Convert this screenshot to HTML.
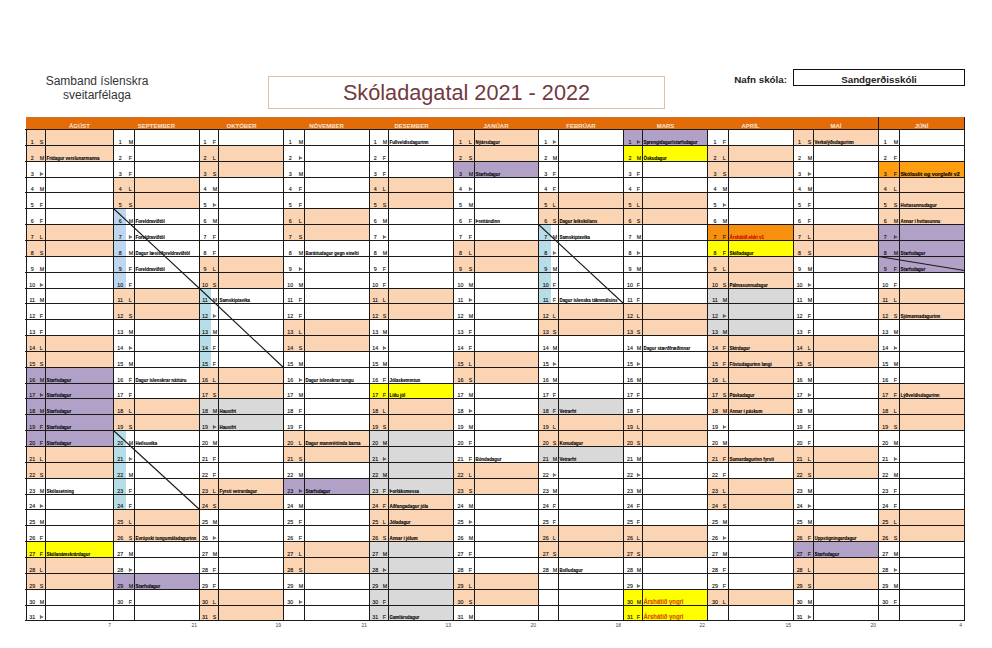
<!DOCTYPE html>
<html><head><meta charset="utf-8"><style>
html,body{margin:0;padding:0;background:#fff;}
body{width:992px;height:648px;position:relative;overflow:hidden;font-family:"Liberation Sans",sans-serif;}
div,span{position:absolute;}
.t{white-space:nowrap;line-height:1;}
.n{font-size:5.3px;color:#111;-webkit-text-stroke:0.12px #111;}
.c{font-size:4.4px;font-weight:bold;color:#000;-webkit-text-stroke:0.1px currentColor;transform:scaleY(1.08);transform-origin:0 100%;}
.h{font-size:6px;font-weight:bold;color:#FBE3CF;}
.bn{font-size:5px;color:#444;}
</style></head><body>

<span class="t" style="left:0;width:194px;top:73.8px;font-size:12px;color:#333;text-align:center;line-height:14px">Samband íslenskra<br>sveitarfélaga</span>
<div style="left:268px;top:76px;width:395px;height:31px;border:1px solid #E2BFA3"></div>
<span class="t" style="left:268px;width:397px;top:82.1px;font-size:21.7px;color:#723A40;text-align:center">Skóladagatal 2021 - 2022</span>
<span class="t" style="left:700px;width:87px;top:75px;font-size:9.8px;font-weight:bold;color:#222;text-align:right">Nafn skóla:</span>
<div style="left:793px;top:69px;width:170px;height:15px;border:1.5px solid #111"></div>
<span class="t" style="left:793px;width:172px;top:74.5px;font-size:9.8px;font-weight:bold;color:#222;text-align:center">Sandgerðisskóli</span>
<div style="left:26px;top:117px;width:939px;height:12px;background:#E36C09"></div>
<div style="left:26px;top:117px;width:939px;height:1px;background:#C9722C"></div>
<span class="t h" style="left:45px;width:69px;top:122.6px;text-align:center">ÁGÚST</span>
<span class="t h" style="left:113px;width:87px;top:122.6px;text-align:center">SEPTEMBER</span>
<span class="t h" style="left:199px;width:85px;top:122.6px;text-align:center">OKTÓBER</span>
<span class="t h" style="left:283px;width:87px;top:122.6px;text-align:center">NÓVEMBER</span>
<span class="t h" style="left:369px;width:85px;top:122.6px;text-align:center">DESEMBER</span>
<span class="t h" style="left:453px;width:86px;top:122.6px;text-align:center">JANÚAR</span>
<span class="t h" style="left:538px;width:86px;top:122.6px;text-align:center">FEBRÚAR</span>
<span class="t h" style="left:623px;width:85px;top:122.6px;text-align:center">MARS</span>
<span class="t h" style="left:707px;width:87px;top:122.6px;text-align:center">APRÍL</span>
<span class="t h" style="left:793px;width:86px;top:122.6px;text-align:center">MAÍ</span>
<span class="t h" style="left:878px;width:87px;top:122.6px;text-align:center">JÚNÍ</span>
<div style="left:27px;top:130px;width:86px;height:15px;background:#FBD4B4"></div>
<span class="t n" style="left:22.200000000000003px;width:20px;text-align:center;top:139.8px">1</span>
<span class="t n" style="left:39.7px;top:139.8px">S</span>
<div style="left:27px;top:146px;width:86px;height:15px;background:#FBD4B4"></div>
<span class="t n" style="left:22.200000000000003px;width:20px;text-align:center;top:155.8px">2</span>
<span class="t n" style="left:39.7px;top:155.8px">M</span>
<span class="t c" style="left:46.5px;top:157.16px;font-size:4.4px;">Frídagur verslunarmanna</span>
<span class="t n" style="left:22.200000000000003px;width:20px;text-align:center;top:171.8px">3</span>
<span class="t n" style="left:39.7px;top:171.8px">Þ</span>
<span class="t n" style="left:22.200000000000003px;width:20px;text-align:center;top:186.8px">4</span>
<span class="t n" style="left:39.7px;top:186.8px">M</span>
<span class="t n" style="left:22.200000000000003px;width:20px;text-align:center;top:202.8px">5</span>
<span class="t n" style="left:39.7px;top:202.8px">F</span>
<span class="t n" style="left:22.200000000000003px;width:20px;text-align:center;top:218.8px">6</span>
<span class="t n" style="left:39.7px;top:218.8px">F</span>
<div style="left:27px;top:225px;width:86px;height:15px;background:#FBD4B4"></div>
<span class="t n" style="left:22.200000000000003px;width:20px;text-align:center;top:234.8px">7</span>
<span class="t n" style="left:39.7px;top:234.8px">L</span>
<div style="left:27px;top:241px;width:86px;height:15px;background:#FBD4B4"></div>
<span class="t n" style="left:22.200000000000003px;width:20px;text-align:center;top:250.8px">8</span>
<span class="t n" style="left:39.7px;top:250.8px">S</span>
<span class="t n" style="left:22.200000000000003px;width:20px;text-align:center;top:266.8px">9</span>
<span class="t n" style="left:39.7px;top:266.8px">M</span>
<span class="t n" style="left:22.200000000000003px;width:20px;text-align:center;top:282.8px">10</span>
<span class="t n" style="left:39.7px;top:282.8px">Þ</span>
<span class="t n" style="left:22.200000000000003px;width:20px;text-align:center;top:297.8px">11</span>
<span class="t n" style="left:39.7px;top:297.8px">M</span>
<span class="t n" style="left:22.200000000000003px;width:20px;text-align:center;top:313.8px">12</span>
<span class="t n" style="left:39.7px;top:313.8px">F</span>
<span class="t n" style="left:22.200000000000003px;width:20px;text-align:center;top:329.8px">13</span>
<span class="t n" style="left:39.7px;top:329.8px">F</span>
<div style="left:27px;top:336px;width:86px;height:15px;background:#FBD4B4"></div>
<span class="t n" style="left:22.200000000000003px;width:20px;text-align:center;top:345.8px">14</span>
<span class="t n" style="left:39.7px;top:345.8px">L</span>
<div style="left:27px;top:352px;width:86px;height:15px;background:#FBD4B4"></div>
<span class="t n" style="left:22.200000000000003px;width:20px;text-align:center;top:361.8px">15</span>
<span class="t n" style="left:39.7px;top:361.8px">S</span>
<div style="left:27px;top:368px;width:86px;height:15px;background:#B2A1C7"></div>
<span class="t n" style="left:22.200000000000003px;width:20px;text-align:center;top:377.8px">16</span>
<span class="t n" style="left:39.7px;top:377.8px">M</span>
<span class="t c" style="left:46.5px;top:379.15999999999997px;font-size:4.4px;">Starfsdagur</span>
<div style="left:27px;top:384px;width:86px;height:14px;background:#B2A1C7"></div>
<span class="t n" style="left:22.200000000000003px;width:20px;text-align:center;top:392.8px">17</span>
<span class="t n" style="left:39.7px;top:392.8px">Þ</span>
<span class="t c" style="left:46.5px;top:394.15999999999997px;font-size:4.4px;">Starfsdagur</span>
<div style="left:27px;top:399px;width:86px;height:15px;background:#B2A1C7"></div>
<span class="t n" style="left:22.200000000000003px;width:20px;text-align:center;top:408.8px">18</span>
<span class="t n" style="left:39.7px;top:408.8px">M</span>
<span class="t c" style="left:46.5px;top:410.15999999999997px;font-size:4.4px;">Starfsdagur</span>
<div style="left:27px;top:415px;width:86px;height:15px;background:#B2A1C7"></div>
<span class="t n" style="left:22.200000000000003px;width:20px;text-align:center;top:424.8px">19</span>
<span class="t n" style="left:39.7px;top:424.8px">F</span>
<span class="t c" style="left:46.5px;top:426.15999999999997px;font-size:4.4px;">Starfsdagur</span>
<div style="left:27px;top:431px;width:86px;height:15px;background:#B2A1C7"></div>
<span class="t n" style="left:22.200000000000003px;width:20px;text-align:center;top:440.8px">20</span>
<span class="t n" style="left:39.7px;top:440.8px">F</span>
<span class="t c" style="left:46.5px;top:442.15999999999997px;font-size:4.4px;">Starfsdagur</span>
<div style="left:27px;top:447px;width:86px;height:15px;background:#FBD4B4"></div>
<span class="t n" style="left:22.200000000000003px;width:20px;text-align:center;top:456.8px">21</span>
<span class="t n" style="left:39.7px;top:456.8px">L</span>
<div style="left:27px;top:463px;width:86px;height:15px;background:#FBD4B4"></div>
<span class="t n" style="left:22.200000000000003px;width:20px;text-align:center;top:472.8px">22</span>
<span class="t n" style="left:39.7px;top:472.8px">S</span>
<span class="t n" style="left:22.200000000000003px;width:20px;text-align:center;top:488.8px">23</span>
<span class="t n" style="left:39.7px;top:488.8px">M</span>
<span class="t c" style="left:46.5px;top:490.15999999999997px;font-size:4.4px;">Skólasetning</span>
<span class="t n" style="left:22.200000000000003px;width:20px;text-align:center;top:503.8px">24</span>
<span class="t n" style="left:39.7px;top:503.8px">Þ</span>
<span class="t n" style="left:22.200000000000003px;width:20px;text-align:center;top:519.8px">25</span>
<span class="t n" style="left:39.7px;top:519.8px">M</span>
<span class="t n" style="left:22.200000000000003px;width:20px;text-align:center;top:535.8px">26</span>
<span class="t n" style="left:39.7px;top:535.8px">F</span>
<div style="left:27px;top:542px;width:86px;height:15px;background:#FFFF00"></div>
<span class="t n" style="left:22.200000000000003px;width:20px;text-align:center;top:551.8px">27</span>
<span class="t n" style="left:39.7px;top:551.8px">F</span>
<span class="t c" style="left:46.5px;top:553.16px;font-size:4.4px;">Skólanámskrárdagur</span>
<div style="left:27px;top:558px;width:86px;height:15px;background:#FBD4B4"></div>
<span class="t n" style="left:22.200000000000003px;width:20px;text-align:center;top:567.8px">28</span>
<span class="t n" style="left:39.7px;top:567.8px">L</span>
<div style="left:27px;top:574px;width:86px;height:15px;background:#FBD4B4"></div>
<span class="t n" style="left:22.200000000000003px;width:20px;text-align:center;top:583.8px">29</span>
<span class="t n" style="left:39.7px;top:583.8px">S</span>
<span class="t n" style="left:22.200000000000003px;width:20px;text-align:center;top:599.8px">30</span>
<span class="t n" style="left:39.7px;top:599.8px">M</span>
<span class="t n" style="left:22.200000000000003px;width:20px;text-align:center;top:614.8px">31</span>
<span class="t n" style="left:39.7px;top:614.8px">Þ</span>
<span class="t n" style="left:110.25px;width:20px;text-align:center;top:139.8px">1</span>
<span class="t n" style="left:128.7px;top:139.8px">M</span>
<span class="t n" style="left:110.25px;width:20px;text-align:center;top:155.8px">2</span>
<span class="t n" style="left:128.7px;top:155.8px">F</span>
<span class="t n" style="left:110.25px;width:20px;text-align:center;top:171.8px">3</span>
<span class="t n" style="left:128.7px;top:171.8px">F</span>
<div style="left:114px;top:178px;width:85px;height:14px;background:#FBD4B4"></div>
<span class="t n" style="left:110.25px;width:20px;text-align:center;top:186.8px">4</span>
<span class="t n" style="left:128.7px;top:186.8px">L</span>
<div style="left:114px;top:193px;width:85px;height:15px;background:#FBD4B4"></div>
<span class="t n" style="left:110.25px;width:20px;text-align:center;top:202.8px">5</span>
<span class="t n" style="left:128.7px;top:202.8px">S</span>
<div style="left:114px;top:209px;width:12px;height:15px;background:#BDD7EE"></div>
<span class="t n" style="left:110.25px;width:20px;text-align:center;top:218.8px">6</span>
<span class="t n" style="left:128.7px;top:218.8px">M</span>
<span class="t c" style="left:135.5px;top:220.16px;font-size:4.4px;">Foreldraviðtöl</span>
<div style="left:114px;top:225px;width:12px;height:15px;background:#BDD7EE"></div>
<span class="t n" style="left:110.25px;width:20px;text-align:center;top:234.8px">7</span>
<span class="t n" style="left:128.7px;top:234.8px">Þ</span>
<span class="t c" style="left:135.5px;top:236.16px;font-size:4.4px;">Foreldraviðtöl</span>
<div style="left:114px;top:241px;width:12px;height:15px;background:#BDD7EE"></div>
<span class="t n" style="left:110.25px;width:20px;text-align:center;top:250.8px">8</span>
<span class="t n" style="left:128.7px;top:250.8px">M</span>
<span class="t c" style="left:135.5px;top:252.16px;font-size:4.4px;">Dagur læsis/foreldraviðtöl</span>
<div style="left:114px;top:257px;width:12px;height:15px;background:#BDD7EE"></div>
<span class="t n" style="left:110.25px;width:20px;text-align:center;top:266.8px">9</span>
<span class="t n" style="left:128.7px;top:266.8px">F</span>
<span class="t c" style="left:135.5px;top:268.15999999999997px;font-size:4.4px;">Foreldraviðtöl</span>
<div style="left:114px;top:273px;width:12px;height:15px;background:#BDD7EE"></div>
<span class="t n" style="left:110.25px;width:20px;text-align:center;top:282.8px">10</span>
<span class="t n" style="left:128.7px;top:282.8px">F</span>
<div style="left:114px;top:289px;width:85px;height:14px;background:#FBD4B4"></div>
<span class="t n" style="left:110.25px;width:20px;text-align:center;top:297.8px">11</span>
<span class="t n" style="left:128.7px;top:297.8px">L</span>
<div style="left:114px;top:304px;width:85px;height:15px;background:#FBD4B4"></div>
<span class="t n" style="left:110.25px;width:20px;text-align:center;top:313.8px">12</span>
<span class="t n" style="left:128.7px;top:313.8px">S</span>
<span class="t n" style="left:110.25px;width:20px;text-align:center;top:329.8px">13</span>
<span class="t n" style="left:128.7px;top:329.8px">M</span>
<span class="t n" style="left:110.25px;width:20px;text-align:center;top:345.8px">14</span>
<span class="t n" style="left:128.7px;top:345.8px">Þ</span>
<span class="t n" style="left:110.25px;width:20px;text-align:center;top:361.8px">15</span>
<span class="t n" style="left:128.7px;top:361.8px">M</span>
<span class="t n" style="left:110.25px;width:20px;text-align:center;top:377.8px">16</span>
<span class="t n" style="left:128.7px;top:377.8px">F</span>
<span class="t c" style="left:135.5px;top:379.15999999999997px;font-size:4.4px;">Dagur íslenskrar náttúru</span>
<span class="t n" style="left:110.25px;width:20px;text-align:center;top:392.8px">17</span>
<span class="t n" style="left:128.7px;top:392.8px">F</span>
<div style="left:114px;top:399px;width:85px;height:15px;background:#FBD4B4"></div>
<span class="t n" style="left:110.25px;width:20px;text-align:center;top:408.8px">18</span>
<span class="t n" style="left:128.7px;top:408.8px">L</span>
<div style="left:114px;top:415px;width:85px;height:15px;background:#FBD4B4"></div>
<span class="t n" style="left:110.25px;width:20px;text-align:center;top:424.8px">19</span>
<span class="t n" style="left:128.7px;top:424.8px">S</span>
<div style="left:114px;top:431px;width:12px;height:15px;background:#B7DEE8"></div>
<span class="t n" style="left:110.25px;width:20px;text-align:center;top:440.8px">20</span>
<span class="t n" style="left:128.7px;top:440.8px">M</span>
<span class="t c" style="left:135.5px;top:442.15999999999997px;font-size:4.4px;">Heilsuvika</span>
<div style="left:114px;top:447px;width:12px;height:15px;background:#B7DEE8"></div>
<span class="t n" style="left:110.25px;width:20px;text-align:center;top:456.8px">21</span>
<span class="t n" style="left:128.7px;top:456.8px">Þ</span>
<div style="left:114px;top:463px;width:12px;height:15px;background:#B7DEE8"></div>
<span class="t n" style="left:110.25px;width:20px;text-align:center;top:472.8px">22</span>
<span class="t n" style="left:128.7px;top:472.8px">M</span>
<div style="left:114px;top:479px;width:12px;height:15px;background:#B7DEE8"></div>
<span class="t n" style="left:110.25px;width:20px;text-align:center;top:488.8px">23</span>
<span class="t n" style="left:128.7px;top:488.8px">F</span>
<div style="left:114px;top:495px;width:12px;height:14px;background:#B7DEE8"></div>
<span class="t n" style="left:110.25px;width:20px;text-align:center;top:503.8px">24</span>
<span class="t n" style="left:128.7px;top:503.8px">F</span>
<div style="left:114px;top:510px;width:85px;height:15px;background:#FBD4B4"></div>
<span class="t n" style="left:110.25px;width:20px;text-align:center;top:519.8px">25</span>
<span class="t n" style="left:128.7px;top:519.8px">L</span>
<div style="left:114px;top:526px;width:85px;height:15px;background:#FBD4B4"></div>
<span class="t n" style="left:110.25px;width:20px;text-align:center;top:535.8px">26</span>
<span class="t n" style="left:128.7px;top:535.8px">S</span>
<span class="t c" style="left:135.5px;top:537.16px;font-size:4.4px;">Evrópski tungumáladagurinn</span>
<span class="t n" style="left:110.25px;width:20px;text-align:center;top:551.8px">27</span>
<span class="t n" style="left:128.7px;top:551.8px">M</span>
<span class="t n" style="left:110.25px;width:20px;text-align:center;top:567.8px">28</span>
<span class="t n" style="left:128.7px;top:567.8px">Þ</span>
<div style="left:114px;top:574px;width:85px;height:15px;background:#B2A1C7"></div>
<span class="t n" style="left:110.25px;width:20px;text-align:center;top:583.8px">29</span>
<span class="t n" style="left:128.7px;top:583.8px">M</span>
<span class="t c" style="left:135.5px;top:585.16px;font-size:4.4px;">Starfsdagur</span>
<span class="t n" style="left:110.25px;width:20px;text-align:center;top:599.8px">30</span>
<span class="t n" style="left:128.7px;top:599.8px">F</span>
<span class="t n" style="left:195.0px;width:20px;text-align:center;top:139.8px">1</span>
<span class="t n" style="left:212.7px;top:139.8px">F</span>
<div style="left:200px;top:146px;width:83px;height:15px;background:#FBD4B4"></div>
<span class="t n" style="left:195.0px;width:20px;text-align:center;top:155.8px">2</span>
<span class="t n" style="left:212.7px;top:155.8px">L</span>
<div style="left:200px;top:162px;width:83px;height:15px;background:#FBD4B4"></div>
<span class="t n" style="left:195.0px;width:20px;text-align:center;top:171.8px">3</span>
<span class="t n" style="left:212.7px;top:171.8px">S</span>
<span class="t n" style="left:195.0px;width:20px;text-align:center;top:186.8px">4</span>
<span class="t n" style="left:212.7px;top:186.8px">M</span>
<span class="t n" style="left:195.0px;width:20px;text-align:center;top:202.8px">5</span>
<span class="t n" style="left:212.7px;top:202.8px">Þ</span>
<span class="t n" style="left:195.0px;width:20px;text-align:center;top:218.8px">6</span>
<span class="t n" style="left:212.7px;top:218.8px">M</span>
<span class="t n" style="left:195.0px;width:20px;text-align:center;top:234.8px">7</span>
<span class="t n" style="left:212.7px;top:234.8px">F</span>
<span class="t n" style="left:195.0px;width:20px;text-align:center;top:250.8px">8</span>
<span class="t n" style="left:212.7px;top:250.8px">F</span>
<div style="left:200px;top:257px;width:83px;height:15px;background:#FBD4B4"></div>
<span class="t n" style="left:195.0px;width:20px;text-align:center;top:266.8px">9</span>
<span class="t n" style="left:212.7px;top:266.8px">L</span>
<div style="left:200px;top:273px;width:83px;height:15px;background:#FBD4B4"></div>
<span class="t n" style="left:195.0px;width:20px;text-align:center;top:282.8px">10</span>
<span class="t n" style="left:212.7px;top:282.8px">S</span>
<div style="left:200px;top:289px;width:11px;height:14px;background:#B7DEE8"></div>
<span class="t n" style="left:195.0px;width:20px;text-align:center;top:297.8px">11</span>
<span class="t n" style="left:212.7px;top:297.8px">M</span>
<span class="t c" style="left:219.5px;top:299.15999999999997px;font-size:4.4px;">Samskiptavika</span>
<div style="left:200px;top:304px;width:11px;height:15px;background:#B7DEE8"></div>
<span class="t n" style="left:195.0px;width:20px;text-align:center;top:313.8px">12</span>
<span class="t n" style="left:212.7px;top:313.8px">Þ</span>
<div style="left:200px;top:320px;width:11px;height:15px;background:#B7DEE8"></div>
<span class="t n" style="left:195.0px;width:20px;text-align:center;top:329.8px">13</span>
<span class="t n" style="left:212.7px;top:329.8px">M</span>
<div style="left:200px;top:336px;width:11px;height:15px;background:#B7DEE8"></div>
<span class="t n" style="left:195.0px;width:20px;text-align:center;top:345.8px">14</span>
<span class="t n" style="left:212.7px;top:345.8px">F</span>
<div style="left:200px;top:352px;width:11px;height:15px;background:#B7DEE8"></div>
<span class="t n" style="left:195.0px;width:20px;text-align:center;top:361.8px">15</span>
<span class="t n" style="left:212.7px;top:361.8px">F</span>
<div style="left:200px;top:368px;width:83px;height:15px;background:#FBD4B4"></div>
<span class="t n" style="left:195.0px;width:20px;text-align:center;top:377.8px">16</span>
<span class="t n" style="left:212.7px;top:377.8px">L</span>
<div style="left:200px;top:384px;width:83px;height:14px;background:#FBD4B4"></div>
<span class="t n" style="left:195.0px;width:20px;text-align:center;top:392.8px">17</span>
<span class="t n" style="left:212.7px;top:392.8px">S</span>
<div style="left:200px;top:399px;width:83px;height:15px;background:#D9D9D9"></div>
<span class="t n" style="left:195.0px;width:20px;text-align:center;top:408.8px">18</span>
<span class="t n" style="left:212.7px;top:408.8px">M</span>
<span class="t c" style="left:219.5px;top:410.15999999999997px;font-size:4.4px;">Haustfrí</span>
<div style="left:200px;top:415px;width:83px;height:15px;background:#D9D9D9"></div>
<span class="t n" style="left:195.0px;width:20px;text-align:center;top:424.8px">19</span>
<span class="t n" style="left:212.7px;top:424.8px">Þ</span>
<span class="t c" style="left:219.5px;top:426.15999999999997px;font-size:4.4px;">Haustfrí</span>
<span class="t n" style="left:195.0px;width:20px;text-align:center;top:440.8px">20</span>
<span class="t n" style="left:212.7px;top:440.8px">M</span>
<span class="t n" style="left:195.0px;width:20px;text-align:center;top:456.8px">21</span>
<span class="t n" style="left:212.7px;top:456.8px">F</span>
<span class="t n" style="left:195.0px;width:20px;text-align:center;top:472.8px">22</span>
<span class="t n" style="left:212.7px;top:472.8px">F</span>
<div style="left:200px;top:479px;width:83px;height:15px;background:#FBD4B4"></div>
<span class="t n" style="left:195.0px;width:20px;text-align:center;top:488.8px">23</span>
<span class="t n" style="left:212.7px;top:488.8px">L</span>
<span class="t c" style="left:219.5px;top:490.15999999999997px;font-size:4.4px;">Fyrsti vetrardagur</span>
<div style="left:200px;top:495px;width:83px;height:14px;background:#FBD4B4"></div>
<span class="t n" style="left:195.0px;width:20px;text-align:center;top:503.8px">24</span>
<span class="t n" style="left:212.7px;top:503.8px">S</span>
<span class="t n" style="left:195.0px;width:20px;text-align:center;top:519.8px">25</span>
<span class="t n" style="left:212.7px;top:519.8px">M</span>
<span class="t n" style="left:195.0px;width:20px;text-align:center;top:535.8px">26</span>
<span class="t n" style="left:212.7px;top:535.8px">Þ</span>
<span class="t n" style="left:195.0px;width:20px;text-align:center;top:551.8px">27</span>
<span class="t n" style="left:212.7px;top:551.8px">M</span>
<span class="t n" style="left:195.0px;width:20px;text-align:center;top:567.8px">28</span>
<span class="t n" style="left:212.7px;top:567.8px">F</span>
<span class="t n" style="left:195.0px;width:20px;text-align:center;top:583.8px">29</span>
<span class="t n" style="left:212.7px;top:583.8px">F</span>
<div style="left:200px;top:590px;width:83px;height:15px;background:#FBD4B4"></div>
<span class="t n" style="left:195.0px;width:20px;text-align:center;top:599.8px">30</span>
<span class="t n" style="left:212.7px;top:599.8px">L</span>
<div style="left:200px;top:606px;width:83px;height:14px;background:#FBD4B4"></div>
<span class="t n" style="left:195.0px;width:20px;text-align:center;top:614.8px">31</span>
<span class="t n" style="left:212.7px;top:614.8px">S</span>
<span class="t n" style="left:280.3px;width:20px;text-align:center;top:139.8px">1</span>
<span class="t n" style="left:298.7px;top:139.8px">M</span>
<span class="t n" style="left:280.3px;width:20px;text-align:center;top:155.8px">2</span>
<span class="t n" style="left:298.7px;top:155.8px">Þ</span>
<span class="t n" style="left:280.3px;width:20px;text-align:center;top:171.8px">3</span>
<span class="t n" style="left:298.7px;top:171.8px">M</span>
<span class="t n" style="left:280.3px;width:20px;text-align:center;top:186.8px">4</span>
<span class="t n" style="left:298.7px;top:186.8px">F</span>
<span class="t n" style="left:280.3px;width:20px;text-align:center;top:202.8px">5</span>
<span class="t n" style="left:298.7px;top:202.8px">F</span>
<div style="left:284px;top:209px;width:85px;height:15px;background:#FBD4B4"></div>
<span class="t n" style="left:280.3px;width:20px;text-align:center;top:218.8px">6</span>
<span class="t n" style="left:298.7px;top:218.8px">L</span>
<div style="left:284px;top:225px;width:85px;height:15px;background:#FBD4B4"></div>
<span class="t n" style="left:280.3px;width:20px;text-align:center;top:234.8px">7</span>
<span class="t n" style="left:298.7px;top:234.8px">S</span>
<span class="t n" style="left:280.3px;width:20px;text-align:center;top:250.8px">8</span>
<span class="t n" style="left:298.7px;top:250.8px">M</span>
<span class="t c" style="left:305.5px;top:252.16px;font-size:4.4px;">Baráttudagur gegn einelti</span>
<span class="t n" style="left:280.3px;width:20px;text-align:center;top:266.8px">9</span>
<span class="t n" style="left:298.7px;top:266.8px">Þ</span>
<span class="t n" style="left:280.3px;width:20px;text-align:center;top:282.8px">10</span>
<span class="t n" style="left:298.7px;top:282.8px">M</span>
<span class="t n" style="left:280.3px;width:20px;text-align:center;top:297.8px">11</span>
<span class="t n" style="left:298.7px;top:297.8px">F</span>
<span class="t n" style="left:280.3px;width:20px;text-align:center;top:313.8px">12</span>
<span class="t n" style="left:298.7px;top:313.8px">F</span>
<div style="left:284px;top:320px;width:85px;height:15px;background:#FBD4B4"></div>
<span class="t n" style="left:280.3px;width:20px;text-align:center;top:329.8px">13</span>
<span class="t n" style="left:298.7px;top:329.8px">L</span>
<div style="left:284px;top:336px;width:85px;height:15px;background:#FBD4B4"></div>
<span class="t n" style="left:280.3px;width:20px;text-align:center;top:345.8px">14</span>
<span class="t n" style="left:298.7px;top:345.8px">S</span>
<span class="t n" style="left:280.3px;width:20px;text-align:center;top:361.8px">15</span>
<span class="t n" style="left:298.7px;top:361.8px">M</span>
<span class="t n" style="left:280.3px;width:20px;text-align:center;top:377.8px">16</span>
<span class="t n" style="left:298.7px;top:377.8px">Þ</span>
<span class="t c" style="left:305.5px;top:379.15999999999997px;font-size:4.4px;">Dagur íslenskrar tungu</span>
<span class="t n" style="left:280.3px;width:20px;text-align:center;top:392.8px">17</span>
<span class="t n" style="left:298.7px;top:392.8px">M</span>
<span class="t n" style="left:280.3px;width:20px;text-align:center;top:408.8px">18</span>
<span class="t n" style="left:298.7px;top:408.8px">F</span>
<span class="t n" style="left:280.3px;width:20px;text-align:center;top:424.8px">19</span>
<span class="t n" style="left:298.7px;top:424.8px">F</span>
<div style="left:284px;top:431px;width:85px;height:15px;background:#FBD4B4"></div>
<span class="t n" style="left:280.3px;width:20px;text-align:center;top:440.8px">20</span>
<span class="t n" style="left:298.7px;top:440.8px">L</span>
<span class="t c" style="left:305.5px;top:442.15999999999997px;font-size:4.4px;">Dagur mannréttinda barna</span>
<div style="left:284px;top:447px;width:85px;height:15px;background:#FBD4B4"></div>
<span class="t n" style="left:280.3px;width:20px;text-align:center;top:456.8px">21</span>
<span class="t n" style="left:298.7px;top:456.8px">S</span>
<span class="t n" style="left:280.3px;width:20px;text-align:center;top:472.8px">22</span>
<span class="t n" style="left:298.7px;top:472.8px">M</span>
<div style="left:284px;top:479px;width:85px;height:15px;background:#B2A1C7"></div>
<span class="t n" style="left:280.3px;width:20px;text-align:center;top:488.8px">23</span>
<span class="t n" style="left:298.7px;top:488.8px">Þ</span>
<span class="t c" style="left:305.5px;top:490.15999999999997px;font-size:4.4px;">Starfsdagur</span>
<span class="t n" style="left:280.3px;width:20px;text-align:center;top:503.8px">24</span>
<span class="t n" style="left:298.7px;top:503.8px">M</span>
<span class="t n" style="left:280.3px;width:20px;text-align:center;top:519.8px">25</span>
<span class="t n" style="left:298.7px;top:519.8px">F</span>
<span class="t n" style="left:280.3px;width:20px;text-align:center;top:535.8px">26</span>
<span class="t n" style="left:298.7px;top:535.8px">F</span>
<div style="left:284px;top:542px;width:85px;height:15px;background:#FBD4B4"></div>
<span class="t n" style="left:280.3px;width:20px;text-align:center;top:551.8px">27</span>
<span class="t n" style="left:298.7px;top:551.8px">L</span>
<div style="left:284px;top:558px;width:85px;height:15px;background:#FBD4B4"></div>
<span class="t n" style="left:280.3px;width:20px;text-align:center;top:567.8px">28</span>
<span class="t n" style="left:298.7px;top:567.8px">S</span>
<span class="t n" style="left:280.3px;width:20px;text-align:center;top:583.8px">29</span>
<span class="t n" style="left:298.7px;top:583.8px">M</span>
<span class="t n" style="left:280.3px;width:20px;text-align:center;top:599.8px">30</span>
<span class="t n" style="left:298.7px;top:599.8px">Þ</span>
<span class="t n" style="left:365.3px;width:20px;text-align:center;top:139.8px">1</span>
<span class="t n" style="left:382.7px;top:139.8px">M</span>
<span class="t c" style="left:389.5px;top:141.16px;font-size:4.4px;">Fullveldisdagurinn</span>
<span class="t n" style="left:365.3px;width:20px;text-align:center;top:155.8px">2</span>
<span class="t n" style="left:382.7px;top:155.8px">F</span>
<span class="t n" style="left:365.3px;width:20px;text-align:center;top:171.8px">3</span>
<span class="t n" style="left:382.7px;top:171.8px">F</span>
<div style="left:370px;top:178px;width:83px;height:14px;background:#FBD4B4"></div>
<span class="t n" style="left:365.3px;width:20px;text-align:center;top:186.8px">4</span>
<span class="t n" style="left:382.7px;top:186.8px">L</span>
<div style="left:370px;top:193px;width:83px;height:15px;background:#FBD4B4"></div>
<span class="t n" style="left:365.3px;width:20px;text-align:center;top:202.8px">5</span>
<span class="t n" style="left:382.7px;top:202.8px">S</span>
<span class="t n" style="left:365.3px;width:20px;text-align:center;top:218.8px">6</span>
<span class="t n" style="left:382.7px;top:218.8px">M</span>
<span class="t n" style="left:365.3px;width:20px;text-align:center;top:234.8px">7</span>
<span class="t n" style="left:382.7px;top:234.8px">Þ</span>
<span class="t n" style="left:365.3px;width:20px;text-align:center;top:250.8px">8</span>
<span class="t n" style="left:382.7px;top:250.8px">M</span>
<span class="t n" style="left:365.3px;width:20px;text-align:center;top:266.8px">9</span>
<span class="t n" style="left:382.7px;top:266.8px">F</span>
<span class="t n" style="left:365.3px;width:20px;text-align:center;top:282.8px">10</span>
<span class="t n" style="left:382.7px;top:282.8px">F</span>
<div style="left:370px;top:289px;width:83px;height:14px;background:#FBD4B4"></div>
<span class="t n" style="left:365.3px;width:20px;text-align:center;top:297.8px">11</span>
<span class="t n" style="left:382.7px;top:297.8px">L</span>
<div style="left:370px;top:304px;width:83px;height:15px;background:#FBD4B4"></div>
<span class="t n" style="left:365.3px;width:20px;text-align:center;top:313.8px">12</span>
<span class="t n" style="left:382.7px;top:313.8px">S</span>
<span class="t n" style="left:365.3px;width:20px;text-align:center;top:329.8px">13</span>
<span class="t n" style="left:382.7px;top:329.8px">M</span>
<span class="t n" style="left:365.3px;width:20px;text-align:center;top:345.8px">14</span>
<span class="t n" style="left:382.7px;top:345.8px">Þ</span>
<span class="t n" style="left:365.3px;width:20px;text-align:center;top:361.8px">15</span>
<span class="t n" style="left:382.7px;top:361.8px">M</span>
<span class="t n" style="left:365.3px;width:20px;text-align:center;top:377.8px">16</span>
<span class="t n" style="left:382.7px;top:377.8px">F</span>
<span class="t c" style="left:389.5px;top:379.15999999999997px;font-size:4.4px;">Jólaskemmtun</span>
<div style="left:370px;top:384px;width:83px;height:14px;background:#FFFF00"></div>
<span class="t n" style="left:365.3px;width:20px;text-align:center;top:392.8px">17</span>
<span class="t n" style="left:382.7px;top:392.8px">F</span>
<span class="t c" style="left:389.5px;top:394.15999999999997px;font-size:4.4px;">Litlu jól</span>
<div style="left:370px;top:399px;width:83px;height:15px;background:#FBD4B4"></div>
<span class="t n" style="left:365.3px;width:20px;text-align:center;top:408.8px">18</span>
<span class="t n" style="left:382.7px;top:408.8px">L</span>
<div style="left:370px;top:415px;width:83px;height:15px;background:#FBD4B4"></div>
<span class="t n" style="left:365.3px;width:20px;text-align:center;top:424.8px">19</span>
<span class="t n" style="left:382.7px;top:424.8px">S</span>
<div style="left:370px;top:431px;width:83px;height:15px;background:#D9D9D9"></div>
<span class="t n" style="left:365.3px;width:20px;text-align:center;top:440.8px">20</span>
<span class="t n" style="left:382.7px;top:440.8px">M</span>
<div style="left:370px;top:447px;width:83px;height:15px;background:#D9D9D9"></div>
<span class="t n" style="left:365.3px;width:20px;text-align:center;top:456.8px">21</span>
<span class="t n" style="left:382.7px;top:456.8px">Þ</span>
<div style="left:370px;top:463px;width:83px;height:15px;background:#D9D9D9"></div>
<span class="t n" style="left:365.3px;width:20px;text-align:center;top:472.8px">22</span>
<span class="t n" style="left:382.7px;top:472.8px">M</span>
<div style="left:370px;top:479px;width:83px;height:15px;background:#D9D9D9"></div>
<span class="t n" style="left:365.3px;width:20px;text-align:center;top:488.8px">23</span>
<span class="t n" style="left:382.7px;top:488.8px">F</span>
<span class="t c" style="left:389.5px;top:490.15999999999997px;font-size:4.4px;">Þorláksmessa</span>
<div style="left:370px;top:495px;width:83px;height:14px;background:#FBD4B4"></div>
<span class="t n" style="left:365.3px;width:20px;text-align:center;top:503.8px">24</span>
<span class="t n" style="left:382.7px;top:503.8px">F</span>
<span class="t c" style="left:389.5px;top:505.15999999999997px;font-size:4.4px;">Aðfangadagur jóla</span>
<div style="left:370px;top:510px;width:83px;height:15px;background:#FBD4B4"></div>
<span class="t n" style="left:365.3px;width:20px;text-align:center;top:519.8px">25</span>
<span class="t n" style="left:382.7px;top:519.8px">L</span>
<span class="t c" style="left:389.5px;top:521.16px;font-size:4.4px;">Jóladagur</span>
<div style="left:370px;top:526px;width:83px;height:15px;background:#FBD4B4"></div>
<span class="t n" style="left:365.3px;width:20px;text-align:center;top:535.8px">26</span>
<span class="t n" style="left:382.7px;top:535.8px">S</span>
<span class="t c" style="left:389.5px;top:537.16px;font-size:4.4px;">Annar í jólum</span>
<div style="left:370px;top:542px;width:83px;height:15px;background:#D9D9D9"></div>
<span class="t n" style="left:365.3px;width:20px;text-align:center;top:551.8px">27</span>
<span class="t n" style="left:382.7px;top:551.8px">M</span>
<div style="left:370px;top:558px;width:83px;height:15px;background:#D9D9D9"></div>
<span class="t n" style="left:365.3px;width:20px;text-align:center;top:567.8px">28</span>
<span class="t n" style="left:382.7px;top:567.8px">Þ</span>
<div style="left:370px;top:574px;width:83px;height:15px;background:#D9D9D9"></div>
<span class="t n" style="left:365.3px;width:20px;text-align:center;top:583.8px">29</span>
<span class="t n" style="left:382.7px;top:583.8px">M</span>
<div style="left:370px;top:590px;width:83px;height:15px;background:#D9D9D9"></div>
<span class="t n" style="left:365.3px;width:20px;text-align:center;top:599.8px">30</span>
<span class="t n" style="left:382.7px;top:599.8px">F</span>
<div style="left:370px;top:606px;width:83px;height:14px;background:#D9D9D9"></div>
<span class="t n" style="left:365.3px;width:20px;text-align:center;top:614.8px">31</span>
<span class="t n" style="left:382.7px;top:614.8px">F</span>
<span class="t c" style="left:389.5px;top:616.16px;font-size:4.4px;">Gamlársdagur</span>
<div style="left:454px;top:130px;width:84px;height:15px;background:#FBD4B4"></div>
<span class="t n" style="left:450.5px;width:20px;text-align:center;top:139.8px">1</span>
<span class="t n" style="left:468.7px;top:139.8px">L</span>
<span class="t c" style="left:475.5px;top:141.16px;font-size:4.4px;">Nýársdagur</span>
<div style="left:454px;top:146px;width:84px;height:15px;background:#FBD4B4"></div>
<span class="t n" style="left:450.5px;width:20px;text-align:center;top:155.8px">2</span>
<span class="t n" style="left:468.7px;top:155.8px">S</span>
<div style="left:454px;top:162px;width:84px;height:15px;background:#B2A1C7"></div>
<span class="t n" style="left:450.5px;width:20px;text-align:center;top:171.8px">3</span>
<span class="t n" style="left:468.7px;top:171.8px">M</span>
<span class="t c" style="left:475.5px;top:173.16px;font-size:4.4px;">Starfsdagur</span>
<span class="t n" style="left:450.5px;width:20px;text-align:center;top:186.8px">4</span>
<span class="t n" style="left:468.7px;top:186.8px">Þ</span>
<span class="t n" style="left:450.5px;width:20px;text-align:center;top:202.8px">5</span>
<span class="t n" style="left:468.7px;top:202.8px">M</span>
<span class="t n" style="left:450.5px;width:20px;text-align:center;top:218.8px">6</span>
<span class="t n" style="left:468.7px;top:218.8px">F</span>
<span class="t c" style="left:475.5px;top:220.16px;font-size:4.4px;">Þrettándinn</span>
<span class="t n" style="left:450.5px;width:20px;text-align:center;top:234.8px">7</span>
<span class="t n" style="left:468.7px;top:234.8px">F</span>
<div style="left:454px;top:241px;width:84px;height:15px;background:#FBD4B4"></div>
<span class="t n" style="left:450.5px;width:20px;text-align:center;top:250.8px">8</span>
<span class="t n" style="left:468.7px;top:250.8px">L</span>
<div style="left:454px;top:257px;width:84px;height:15px;background:#FBD4B4"></div>
<span class="t n" style="left:450.5px;width:20px;text-align:center;top:266.8px">9</span>
<span class="t n" style="left:468.7px;top:266.8px">S</span>
<span class="t n" style="left:450.5px;width:20px;text-align:center;top:282.8px">10</span>
<span class="t n" style="left:468.7px;top:282.8px">M</span>
<span class="t n" style="left:450.5px;width:20px;text-align:center;top:297.8px">11</span>
<span class="t n" style="left:468.7px;top:297.8px">Þ</span>
<span class="t n" style="left:450.5px;width:20px;text-align:center;top:313.8px">12</span>
<span class="t n" style="left:468.7px;top:313.8px">M</span>
<span class="t n" style="left:450.5px;width:20px;text-align:center;top:329.8px">13</span>
<span class="t n" style="left:468.7px;top:329.8px">F</span>
<span class="t n" style="left:450.5px;width:20px;text-align:center;top:345.8px">14</span>
<span class="t n" style="left:468.7px;top:345.8px">F</span>
<div style="left:454px;top:352px;width:84px;height:15px;background:#FBD4B4"></div>
<span class="t n" style="left:450.5px;width:20px;text-align:center;top:361.8px">15</span>
<span class="t n" style="left:468.7px;top:361.8px">L</span>
<div style="left:454px;top:368px;width:84px;height:15px;background:#FBD4B4"></div>
<span class="t n" style="left:450.5px;width:20px;text-align:center;top:377.8px">16</span>
<span class="t n" style="left:468.7px;top:377.8px">S</span>
<span class="t n" style="left:450.5px;width:20px;text-align:center;top:392.8px">17</span>
<span class="t n" style="left:468.7px;top:392.8px">M</span>
<span class="t n" style="left:450.5px;width:20px;text-align:center;top:408.8px">18</span>
<span class="t n" style="left:468.7px;top:408.8px">Þ</span>
<span class="t n" style="left:450.5px;width:20px;text-align:center;top:424.8px">19</span>
<span class="t n" style="left:468.7px;top:424.8px">M</span>
<span class="t n" style="left:450.5px;width:20px;text-align:center;top:440.8px">20</span>
<span class="t n" style="left:468.7px;top:440.8px">F</span>
<span class="t n" style="left:450.5px;width:20px;text-align:center;top:456.8px">21</span>
<span class="t n" style="left:468.7px;top:456.8px">F</span>
<span class="t c" style="left:475.5px;top:458.15999999999997px;font-size:4.4px;">Bóndadagur</span>
<div style="left:454px;top:463px;width:84px;height:15px;background:#FBD4B4"></div>
<span class="t n" style="left:450.5px;width:20px;text-align:center;top:472.8px">22</span>
<span class="t n" style="left:468.7px;top:472.8px">L</span>
<div style="left:454px;top:479px;width:84px;height:15px;background:#FBD4B4"></div>
<span class="t n" style="left:450.5px;width:20px;text-align:center;top:488.8px">23</span>
<span class="t n" style="left:468.7px;top:488.8px">S</span>
<span class="t n" style="left:450.5px;width:20px;text-align:center;top:503.8px">24</span>
<span class="t n" style="left:468.7px;top:503.8px">M</span>
<span class="t n" style="left:450.5px;width:20px;text-align:center;top:519.8px">25</span>
<span class="t n" style="left:468.7px;top:519.8px">Þ</span>
<span class="t n" style="left:450.5px;width:20px;text-align:center;top:535.8px">26</span>
<span class="t n" style="left:468.7px;top:535.8px">M</span>
<span class="t n" style="left:450.5px;width:20px;text-align:center;top:551.8px">27</span>
<span class="t n" style="left:468.7px;top:551.8px">F</span>
<span class="t n" style="left:450.5px;width:20px;text-align:center;top:567.8px">28</span>
<span class="t n" style="left:468.7px;top:567.8px">F</span>
<div style="left:454px;top:574px;width:84px;height:15px;background:#FBD4B4"></div>
<span class="t n" style="left:450.5px;width:20px;text-align:center;top:583.8px">29</span>
<span class="t n" style="left:468.7px;top:583.8px">L</span>
<div style="left:454px;top:590px;width:84px;height:15px;background:#FBD4B4"></div>
<span class="t n" style="left:450.5px;width:20px;text-align:center;top:599.8px">30</span>
<span class="t n" style="left:468.7px;top:599.8px">S</span>
<span class="t n" style="left:450.5px;width:20px;text-align:center;top:614.8px">31</span>
<span class="t n" style="left:468.7px;top:614.8px">M</span>
<span class="t n" style="left:535.8px;width:20px;text-align:center;top:139.8px">1</span>
<span class="t n" style="left:552.7px;top:139.8px">Þ</span>
<span class="t n" style="left:535.8px;width:20px;text-align:center;top:155.8px">2</span>
<span class="t n" style="left:552.7px;top:155.8px">M</span>
<span class="t n" style="left:535.8px;width:20px;text-align:center;top:171.8px">3</span>
<span class="t n" style="left:552.7px;top:171.8px">F</span>
<span class="t n" style="left:535.8px;width:20px;text-align:center;top:186.8px">4</span>
<span class="t n" style="left:552.7px;top:186.8px">F</span>
<div style="left:539px;top:193px;width:84px;height:15px;background:#FBD4B4"></div>
<span class="t n" style="left:535.8px;width:20px;text-align:center;top:202.8px">5</span>
<span class="t n" style="left:552.7px;top:202.8px">L</span>
<div style="left:539px;top:209px;width:84px;height:15px;background:#FBD4B4"></div>
<span class="t n" style="left:535.8px;width:20px;text-align:center;top:218.8px">6</span>
<span class="t n" style="left:552.7px;top:218.8px">S</span>
<span class="t c" style="left:559.5px;top:220.16px;font-size:4.4px;">Dagur leikskólans</span>
<div style="left:539px;top:225px;width:12px;height:15px;background:#B7DEE8"></div>
<span class="t n" style="left:535.8px;width:20px;text-align:center;top:234.8px">7</span>
<span class="t n" style="left:552.7px;top:234.8px">M</span>
<span class="t c" style="left:559.5px;top:236.16px;font-size:4.4px;">Samskiptavika</span>
<div style="left:539px;top:241px;width:12px;height:15px;background:#B7DEE8"></div>
<span class="t n" style="left:535.8px;width:20px;text-align:center;top:250.8px">8</span>
<span class="t n" style="left:552.7px;top:250.8px">Þ</span>
<div style="left:539px;top:257px;width:12px;height:15px;background:#B7DEE8"></div>
<span class="t n" style="left:535.8px;width:20px;text-align:center;top:266.8px">9</span>
<span class="t n" style="left:552.7px;top:266.8px">M</span>
<div style="left:539px;top:273px;width:12px;height:15px;background:#B7DEE8"></div>
<span class="t n" style="left:535.8px;width:20px;text-align:center;top:282.8px">10</span>
<span class="t n" style="left:552.7px;top:282.8px">F</span>
<div style="left:539px;top:289px;width:12px;height:14px;background:#B7DEE8"></div>
<span class="t n" style="left:535.8px;width:20px;text-align:center;top:297.8px">11</span>
<span class="t n" style="left:552.7px;top:297.8px">F</span>
<span class="t c" style="left:559.5px;top:299.15999999999997px;font-size:4.4px;">Dagur íslenska táknmálsins</span>
<div style="left:539px;top:304px;width:84px;height:15px;background:#FBD4B4"></div>
<span class="t n" style="left:535.8px;width:20px;text-align:center;top:313.8px">12</span>
<span class="t n" style="left:552.7px;top:313.8px">L</span>
<div style="left:539px;top:320px;width:84px;height:15px;background:#FBD4B4"></div>
<span class="t n" style="left:535.8px;width:20px;text-align:center;top:329.8px">13</span>
<span class="t n" style="left:552.7px;top:329.8px">S</span>
<span class="t n" style="left:535.8px;width:20px;text-align:center;top:345.8px">14</span>
<span class="t n" style="left:552.7px;top:345.8px">M</span>
<span class="t n" style="left:535.8px;width:20px;text-align:center;top:361.8px">15</span>
<span class="t n" style="left:552.7px;top:361.8px">Þ</span>
<span class="t n" style="left:535.8px;width:20px;text-align:center;top:377.8px">16</span>
<span class="t n" style="left:552.7px;top:377.8px">M</span>
<span class="t n" style="left:535.8px;width:20px;text-align:center;top:392.8px">17</span>
<span class="t n" style="left:552.7px;top:392.8px">F</span>
<div style="left:539px;top:399px;width:84px;height:15px;background:#D9D9D9"></div>
<span class="t n" style="left:535.8px;width:20px;text-align:center;top:408.8px">18</span>
<span class="t n" style="left:552.7px;top:408.8px">F</span>
<span class="t c" style="left:559.5px;top:410.15999999999997px;font-size:4.4px;">Vetrarfrí</span>
<div style="left:539px;top:415px;width:84px;height:15px;background:#FBD4B4"></div>
<span class="t n" style="left:535.8px;width:20px;text-align:center;top:424.8px">19</span>
<span class="t n" style="left:552.7px;top:424.8px">L</span>
<div style="left:539px;top:431px;width:84px;height:15px;background:#FBD4B4"></div>
<span class="t n" style="left:535.8px;width:20px;text-align:center;top:440.8px">20</span>
<span class="t n" style="left:552.7px;top:440.8px">S</span>
<span class="t c" style="left:559.5px;top:442.15999999999997px;font-size:4.4px;">Konudagur</span>
<div style="left:539px;top:447px;width:84px;height:15px;background:#D9D9D9"></div>
<span class="t n" style="left:535.8px;width:20px;text-align:center;top:456.8px">21</span>
<span class="t n" style="left:552.7px;top:456.8px">M</span>
<span class="t c" style="left:559.5px;top:458.15999999999997px;font-size:4.4px;">Vetrarfrí</span>
<span class="t n" style="left:535.8px;width:20px;text-align:center;top:472.8px">22</span>
<span class="t n" style="left:552.7px;top:472.8px">Þ</span>
<span class="t n" style="left:535.8px;width:20px;text-align:center;top:488.8px">23</span>
<span class="t n" style="left:552.7px;top:488.8px">M</span>
<span class="t n" style="left:535.8px;width:20px;text-align:center;top:503.8px">24</span>
<span class="t n" style="left:552.7px;top:503.8px">F</span>
<span class="t n" style="left:535.8px;width:20px;text-align:center;top:519.8px">25</span>
<span class="t n" style="left:552.7px;top:519.8px">F</span>
<div style="left:539px;top:526px;width:84px;height:15px;background:#FBD4B4"></div>
<span class="t n" style="left:535.8px;width:20px;text-align:center;top:535.8px">26</span>
<span class="t n" style="left:552.7px;top:535.8px">L</span>
<div style="left:539px;top:542px;width:84px;height:15px;background:#FBD4B4"></div>
<span class="t n" style="left:535.8px;width:20px;text-align:center;top:551.8px">27</span>
<span class="t n" style="left:552.7px;top:551.8px">S</span>
<span class="t n" style="left:535.8px;width:20px;text-align:center;top:567.8px">28</span>
<span class="t n" style="left:552.7px;top:567.8px">M</span>
<span class="t c" style="left:559.5px;top:569.16px;font-size:4.4px;">Bolludagur</span>
<div style="left:624px;top:130px;width:83px;height:15px;background:#B2A1C7"></div>
<span class="t n" style="left:619.9px;width:20px;text-align:center;top:139.8px">1</span>
<span class="t n" style="left:636.7px;top:139.8px">Þ</span>
<span class="t c" style="left:643.5px;top:141.16px;font-size:4.4px;">Sprengidagur/starfsdagur</span>
<div style="left:624px;top:146px;width:83px;height:15px;background:#FFFF00"></div>
<span class="t n" style="left:619.9px;width:20px;text-align:center;top:155.8px">2</span>
<span class="t n" style="left:636.7px;top:155.8px">M</span>
<span class="t c" style="left:643.5px;top:157.16px;font-size:4.4px;">Öskudagur</span>
<span class="t n" style="left:619.9px;width:20px;text-align:center;top:171.8px">3</span>
<span class="t n" style="left:636.7px;top:171.8px">F</span>
<span class="t n" style="left:619.9px;width:20px;text-align:center;top:186.8px">4</span>
<span class="t n" style="left:636.7px;top:186.8px">F</span>
<div style="left:624px;top:193px;width:83px;height:15px;background:#FBD4B4"></div>
<span class="t n" style="left:619.9px;width:20px;text-align:center;top:202.8px">5</span>
<span class="t n" style="left:636.7px;top:202.8px">L</span>
<div style="left:624px;top:209px;width:83px;height:15px;background:#FBD4B4"></div>
<span class="t n" style="left:619.9px;width:20px;text-align:center;top:218.8px">6</span>
<span class="t n" style="left:636.7px;top:218.8px">S</span>
<span class="t n" style="left:619.9px;width:20px;text-align:center;top:234.8px">7</span>
<span class="t n" style="left:636.7px;top:234.8px">M</span>
<span class="t n" style="left:619.9px;width:20px;text-align:center;top:250.8px">8</span>
<span class="t n" style="left:636.7px;top:250.8px">Þ</span>
<span class="t n" style="left:619.9px;width:20px;text-align:center;top:266.8px">9</span>
<span class="t n" style="left:636.7px;top:266.8px">M</span>
<span class="t n" style="left:619.9px;width:20px;text-align:center;top:282.8px">10</span>
<span class="t n" style="left:636.7px;top:282.8px">F</span>
<span class="t n" style="left:619.9px;width:20px;text-align:center;top:297.8px">11</span>
<span class="t n" style="left:636.7px;top:297.8px">F</span>
<div style="left:624px;top:304px;width:83px;height:15px;background:#FBD4B4"></div>
<span class="t n" style="left:619.9px;width:20px;text-align:center;top:313.8px">12</span>
<span class="t n" style="left:636.7px;top:313.8px">L</span>
<div style="left:624px;top:320px;width:83px;height:15px;background:#FBD4B4"></div>
<span class="t n" style="left:619.9px;width:20px;text-align:center;top:329.8px">13</span>
<span class="t n" style="left:636.7px;top:329.8px">S</span>
<span class="t n" style="left:619.9px;width:20px;text-align:center;top:345.8px">14</span>
<span class="t n" style="left:636.7px;top:345.8px">M</span>
<span class="t c" style="left:643.5px;top:347.15999999999997px;font-size:4.4px;">Dagur stærðfræðinnar</span>
<span class="t n" style="left:619.9px;width:20px;text-align:center;top:361.8px">15</span>
<span class="t n" style="left:636.7px;top:361.8px">Þ</span>
<span class="t n" style="left:619.9px;width:20px;text-align:center;top:377.8px">16</span>
<span class="t n" style="left:636.7px;top:377.8px">M</span>
<span class="t n" style="left:619.9px;width:20px;text-align:center;top:392.8px">17</span>
<span class="t n" style="left:636.7px;top:392.8px">F</span>
<span class="t n" style="left:619.9px;width:20px;text-align:center;top:408.8px">18</span>
<span class="t n" style="left:636.7px;top:408.8px">F</span>
<div style="left:624px;top:415px;width:83px;height:15px;background:#FBD4B4"></div>
<span class="t n" style="left:619.9px;width:20px;text-align:center;top:424.8px">19</span>
<span class="t n" style="left:636.7px;top:424.8px">L</span>
<div style="left:624px;top:431px;width:83px;height:15px;background:#FBD4B4"></div>
<span class="t n" style="left:619.9px;width:20px;text-align:center;top:440.8px">20</span>
<span class="t n" style="left:636.7px;top:440.8px">S</span>
<span class="t n" style="left:619.9px;width:20px;text-align:center;top:456.8px">21</span>
<span class="t n" style="left:636.7px;top:456.8px">M</span>
<span class="t n" style="left:619.9px;width:20px;text-align:center;top:472.8px">22</span>
<span class="t n" style="left:636.7px;top:472.8px">Þ</span>
<span class="t n" style="left:619.9px;width:20px;text-align:center;top:488.8px">23</span>
<span class="t n" style="left:636.7px;top:488.8px">M</span>
<span class="t n" style="left:619.9px;width:20px;text-align:center;top:503.8px">24</span>
<span class="t n" style="left:636.7px;top:503.8px">F</span>
<span class="t n" style="left:619.9px;width:20px;text-align:center;top:519.8px">25</span>
<span class="t n" style="left:636.7px;top:519.8px">F</span>
<div style="left:624px;top:526px;width:83px;height:15px;background:#FBD4B4"></div>
<span class="t n" style="left:619.9px;width:20px;text-align:center;top:535.8px">26</span>
<span class="t n" style="left:636.7px;top:535.8px">L</span>
<div style="left:624px;top:542px;width:83px;height:15px;background:#FBD4B4"></div>
<span class="t n" style="left:619.9px;width:20px;text-align:center;top:551.8px">27</span>
<span class="t n" style="left:636.7px;top:551.8px">S</span>
<span class="t n" style="left:619.9px;width:20px;text-align:center;top:567.8px">28</span>
<span class="t n" style="left:636.7px;top:567.8px">M</span>
<span class="t n" style="left:619.9px;width:20px;text-align:center;top:583.8px">29</span>
<span class="t n" style="left:636.7px;top:583.8px">Þ</span>
<div style="left:624px;top:590px;width:83px;height:15px;background:#FFFF00"></div>
<span class="t n" style="left:619.9px;width:20px;text-align:center;top:599.8px">30</span>
<span class="t n" style="left:636.7px;top:599.8px">M</span>
<span class="t c" style="left:643.5px;top:599.885px;color:#D84A00;font-size:5.9px;">Árshátíð yngri</span>
<div style="left:624px;top:606px;width:83px;height:14px;background:#FFFF00"></div>
<span class="t n" style="left:619.9px;width:20px;text-align:center;top:614.8px">31</span>
<span class="t n" style="left:636.7px;top:614.8px">F</span>
<span class="t c" style="left:643.5px;top:614.885px;color:#D84A00;font-size:5.9px;">Árshátíð yngri</span>
<span class="t n" style="left:705.0px;width:20px;text-align:center;top:139.8px">1</span>
<span class="t n" style="left:722.7px;top:139.8px">F</span>
<div style="left:708px;top:146px;width:85px;height:15px;background:#FBD4B4"></div>
<span class="t n" style="left:705.0px;width:20px;text-align:center;top:155.8px">2</span>
<span class="t n" style="left:722.7px;top:155.8px">L</span>
<div style="left:708px;top:162px;width:85px;height:15px;background:#FBD4B4"></div>
<span class="t n" style="left:705.0px;width:20px;text-align:center;top:171.8px">3</span>
<span class="t n" style="left:722.7px;top:171.8px">S</span>
<span class="t n" style="left:705.0px;width:20px;text-align:center;top:186.8px">4</span>
<span class="t n" style="left:722.7px;top:186.8px">M</span>
<span class="t n" style="left:705.0px;width:20px;text-align:center;top:202.8px">5</span>
<span class="t n" style="left:722.7px;top:202.8px">Þ</span>
<span class="t n" style="left:705.0px;width:20px;text-align:center;top:218.8px">6</span>
<span class="t n" style="left:722.7px;top:218.8px">M</span>
<div style="left:708px;top:225px;width:85px;height:15px;background:#F7900F"></div>
<span class="t n" style="left:705.0px;width:20px;text-align:center;top:234.8px">7</span>
<span class="t n" style="left:722.7px;top:234.8px">F</span>
<span class="t c" style="left:729.5px;top:236.16px;color:#C80000;font-size:4.4px;">Árshátíð eldri v1</span>
<div style="left:708px;top:241px;width:85px;height:15px;background:#FFFF00"></div>
<span class="t n" style="left:705.0px;width:20px;text-align:center;top:250.8px">8</span>
<span class="t n" style="left:722.7px;top:250.8px">F</span>
<span class="t c" style="left:729.5px;top:252.16px;font-size:4.4px;">Skíðadagur</span>
<div style="left:708px;top:257px;width:85px;height:15px;background:#FBD4B4"></div>
<span class="t n" style="left:705.0px;width:20px;text-align:center;top:266.8px">9</span>
<span class="t n" style="left:722.7px;top:266.8px">L</span>
<div style="left:708px;top:273px;width:85px;height:15px;background:#FBD4B4"></div>
<span class="t n" style="left:705.0px;width:20px;text-align:center;top:282.8px">10</span>
<span class="t n" style="left:722.7px;top:282.8px">S</span>
<span class="t c" style="left:729.5px;top:284.15999999999997px;font-size:4.4px;">Pálmasunnudagur</span>
<div style="left:708px;top:289px;width:85px;height:14px;background:#D9D9D9"></div>
<span class="t n" style="left:705.0px;width:20px;text-align:center;top:297.8px">11</span>
<span class="t n" style="left:722.7px;top:297.8px">M</span>
<div style="left:708px;top:304px;width:85px;height:15px;background:#D9D9D9"></div>
<span class="t n" style="left:705.0px;width:20px;text-align:center;top:313.8px">12</span>
<span class="t n" style="left:722.7px;top:313.8px">Þ</span>
<div style="left:708px;top:320px;width:85px;height:15px;background:#D9D9D9"></div>
<span class="t n" style="left:705.0px;width:20px;text-align:center;top:329.8px">13</span>
<span class="t n" style="left:722.7px;top:329.8px">M</span>
<div style="left:708px;top:336px;width:85px;height:15px;background:#FBD4B4"></div>
<span class="t n" style="left:705.0px;width:20px;text-align:center;top:345.8px">14</span>
<span class="t n" style="left:722.7px;top:345.8px">F</span>
<span class="t c" style="left:729.5px;top:347.15999999999997px;font-size:4.4px;">Skírdagur</span>
<div style="left:708px;top:352px;width:85px;height:15px;background:#FBD4B4"></div>
<span class="t n" style="left:705.0px;width:20px;text-align:center;top:361.8px">15</span>
<span class="t n" style="left:722.7px;top:361.8px">F</span>
<span class="t c" style="left:729.5px;top:363.15999999999997px;font-size:4.4px;">Föstudagurinn langi</span>
<div style="left:708px;top:368px;width:85px;height:15px;background:#FBD4B4"></div>
<span class="t n" style="left:705.0px;width:20px;text-align:center;top:377.8px">16</span>
<span class="t n" style="left:722.7px;top:377.8px">L</span>
<div style="left:708px;top:384px;width:85px;height:14px;background:#FBD4B4"></div>
<span class="t n" style="left:705.0px;width:20px;text-align:center;top:392.8px">17</span>
<span class="t n" style="left:722.7px;top:392.8px">S</span>
<span class="t c" style="left:729.5px;top:394.15999999999997px;font-size:4.4px;">Páskadagur</span>
<div style="left:708px;top:399px;width:85px;height:15px;background:#FBD4B4"></div>
<span class="t n" style="left:705.0px;width:20px;text-align:center;top:408.8px">18</span>
<span class="t n" style="left:722.7px;top:408.8px">M</span>
<span class="t c" style="left:729.5px;top:410.15999999999997px;font-size:4.4px;">Annar í páskum</span>
<span class="t n" style="left:705.0px;width:20px;text-align:center;top:424.8px">19</span>
<span class="t n" style="left:722.7px;top:424.8px">Þ</span>
<span class="t n" style="left:705.0px;width:20px;text-align:center;top:440.8px">20</span>
<span class="t n" style="left:722.7px;top:440.8px">M</span>
<div style="left:708px;top:447px;width:85px;height:15px;background:#FBD4B4"></div>
<span class="t n" style="left:705.0px;width:20px;text-align:center;top:456.8px">21</span>
<span class="t n" style="left:722.7px;top:456.8px">F</span>
<span class="t c" style="left:729.5px;top:458.15999999999997px;font-size:4.4px;">Sumardagurinn fyrsti</span>
<span class="t n" style="left:705.0px;width:20px;text-align:center;top:472.8px">22</span>
<span class="t n" style="left:722.7px;top:472.8px">F</span>
<div style="left:708px;top:479px;width:85px;height:15px;background:#FBD4B4"></div>
<span class="t n" style="left:705.0px;width:20px;text-align:center;top:488.8px">23</span>
<span class="t n" style="left:722.7px;top:488.8px">L</span>
<div style="left:708px;top:495px;width:85px;height:14px;background:#FBD4B4"></div>
<span class="t n" style="left:705.0px;width:20px;text-align:center;top:503.8px">24</span>
<span class="t n" style="left:722.7px;top:503.8px">S</span>
<span class="t n" style="left:705.0px;width:20px;text-align:center;top:519.8px">25</span>
<span class="t n" style="left:722.7px;top:519.8px">M</span>
<span class="t n" style="left:705.0px;width:20px;text-align:center;top:535.8px">26</span>
<span class="t n" style="left:722.7px;top:535.8px">Þ</span>
<span class="t n" style="left:705.0px;width:20px;text-align:center;top:551.8px">27</span>
<span class="t n" style="left:722.7px;top:551.8px">M</span>
<span class="t n" style="left:705.0px;width:20px;text-align:center;top:567.8px">28</span>
<span class="t n" style="left:722.7px;top:567.8px">F</span>
<span class="t n" style="left:705.0px;width:20px;text-align:center;top:583.8px">29</span>
<span class="t n" style="left:722.7px;top:583.8px">F</span>
<div style="left:708px;top:590px;width:85px;height:15px;background:#FBD4B4"></div>
<span class="t n" style="left:705.0px;width:20px;text-align:center;top:599.8px">30</span>
<span class="t n" style="left:722.7px;top:599.8px">L</span>
<div style="left:794px;top:130px;width:84px;height:15px;background:#FBD4B4"></div>
<span class="t n" style="left:789.6px;width:20px;text-align:center;top:139.8px">1</span>
<span class="t n" style="left:807.7px;top:139.8px">S</span>
<span class="t c" style="left:814.5px;top:141.16px;font-size:4.4px;">Verkalýðsdagurinn</span>
<span class="t n" style="left:789.6px;width:20px;text-align:center;top:155.8px">2</span>
<span class="t n" style="left:807.7px;top:155.8px">M</span>
<span class="t n" style="left:789.6px;width:20px;text-align:center;top:171.8px">3</span>
<span class="t n" style="left:807.7px;top:171.8px">Þ</span>
<span class="t n" style="left:789.6px;width:20px;text-align:center;top:186.8px">4</span>
<span class="t n" style="left:807.7px;top:186.8px">M</span>
<span class="t n" style="left:789.6px;width:20px;text-align:center;top:202.8px">5</span>
<span class="t n" style="left:807.7px;top:202.8px">F</span>
<span class="t n" style="left:789.6px;width:20px;text-align:center;top:218.8px">6</span>
<span class="t n" style="left:807.7px;top:218.8px">F</span>
<div style="left:794px;top:225px;width:84px;height:15px;background:#FBD4B4"></div>
<span class="t n" style="left:789.6px;width:20px;text-align:center;top:234.8px">7</span>
<span class="t n" style="left:807.7px;top:234.8px">L</span>
<div style="left:794px;top:241px;width:84px;height:15px;background:#FBD4B4"></div>
<span class="t n" style="left:789.6px;width:20px;text-align:center;top:250.8px">8</span>
<span class="t n" style="left:807.7px;top:250.8px">S</span>
<span class="t n" style="left:789.6px;width:20px;text-align:center;top:266.8px">9</span>
<span class="t n" style="left:807.7px;top:266.8px">M</span>
<span class="t n" style="left:789.6px;width:20px;text-align:center;top:282.8px">10</span>
<span class="t n" style="left:807.7px;top:282.8px">Þ</span>
<span class="t n" style="left:789.6px;width:20px;text-align:center;top:297.8px">11</span>
<span class="t n" style="left:807.7px;top:297.8px">M</span>
<span class="t n" style="left:789.6px;width:20px;text-align:center;top:313.8px">12</span>
<span class="t n" style="left:807.7px;top:313.8px">F</span>
<span class="t n" style="left:789.6px;width:20px;text-align:center;top:329.8px">13</span>
<span class="t n" style="left:807.7px;top:329.8px">F</span>
<div style="left:794px;top:336px;width:84px;height:15px;background:#FBD4B4"></div>
<span class="t n" style="left:789.6px;width:20px;text-align:center;top:345.8px">14</span>
<span class="t n" style="left:807.7px;top:345.8px">L</span>
<div style="left:794px;top:352px;width:84px;height:15px;background:#FBD4B4"></div>
<span class="t n" style="left:789.6px;width:20px;text-align:center;top:361.8px">15</span>
<span class="t n" style="left:807.7px;top:361.8px">S</span>
<span class="t n" style="left:789.6px;width:20px;text-align:center;top:377.8px">16</span>
<span class="t n" style="left:807.7px;top:377.8px">M</span>
<span class="t n" style="left:789.6px;width:20px;text-align:center;top:392.8px">17</span>
<span class="t n" style="left:807.7px;top:392.8px">Þ</span>
<span class="t n" style="left:789.6px;width:20px;text-align:center;top:408.8px">18</span>
<span class="t n" style="left:807.7px;top:408.8px">M</span>
<span class="t n" style="left:789.6px;width:20px;text-align:center;top:424.8px">19</span>
<span class="t n" style="left:807.7px;top:424.8px">F</span>
<span class="t n" style="left:789.6px;width:20px;text-align:center;top:440.8px">20</span>
<span class="t n" style="left:807.7px;top:440.8px">F</span>
<div style="left:794px;top:447px;width:84px;height:15px;background:#FBD4B4"></div>
<span class="t n" style="left:789.6px;width:20px;text-align:center;top:456.8px">21</span>
<span class="t n" style="left:807.7px;top:456.8px">L</span>
<div style="left:794px;top:463px;width:84px;height:15px;background:#FBD4B4"></div>
<span class="t n" style="left:789.6px;width:20px;text-align:center;top:472.8px">22</span>
<span class="t n" style="left:807.7px;top:472.8px">S</span>
<span class="t n" style="left:789.6px;width:20px;text-align:center;top:488.8px">23</span>
<span class="t n" style="left:807.7px;top:488.8px">M</span>
<span class="t n" style="left:789.6px;width:20px;text-align:center;top:503.8px">24</span>
<span class="t n" style="left:807.7px;top:503.8px">Þ</span>
<span class="t n" style="left:789.6px;width:20px;text-align:center;top:519.8px">25</span>
<span class="t n" style="left:807.7px;top:519.8px">M</span>
<div style="left:794px;top:526px;width:84px;height:15px;background:#FBD4B4"></div>
<span class="t n" style="left:789.6px;width:20px;text-align:center;top:535.8px">26</span>
<span class="t n" style="left:807.7px;top:535.8px">F</span>
<span class="t c" style="left:814.5px;top:537.16px;font-size:4.4px;">Uppstigningardagur</span>
<div style="left:794px;top:542px;width:84px;height:15px;background:#B2A1C7"></div>
<span class="t n" style="left:789.6px;width:20px;text-align:center;top:551.8px">27</span>
<span class="t n" style="left:807.7px;top:551.8px">F</span>
<span class="t c" style="left:814.5px;top:553.16px;font-size:4.4px;">Starfsdagur</span>
<div style="left:794px;top:558px;width:84px;height:15px;background:#FBD4B4"></div>
<span class="t n" style="left:789.6px;width:20px;text-align:center;top:567.8px">28</span>
<span class="t n" style="left:807.7px;top:567.8px">L</span>
<div style="left:794px;top:574px;width:84px;height:15px;background:#FBD4B4"></div>
<span class="t n" style="left:789.6px;width:20px;text-align:center;top:583.8px">29</span>
<span class="t n" style="left:807.7px;top:583.8px">S</span>
<span class="t n" style="left:789.6px;width:20px;text-align:center;top:599.8px">30</span>
<span class="t n" style="left:807.7px;top:599.8px">M</span>
<span class="t n" style="left:789.6px;width:20px;text-align:center;top:614.8px">31</span>
<span class="t n" style="left:807.7px;top:614.8px">Þ</span>
<span class="t n" style="left:875.3px;width:20px;text-align:center;top:139.8px">1</span>
<span class="t n" style="left:893.7px;top:139.8px">M</span>
<span class="t n" style="left:875.3px;width:20px;text-align:center;top:155.8px">2</span>
<span class="t n" style="left:893.7px;top:155.8px">F</span>
<div style="left:879px;top:162px;width:85px;height:15px;background:#FF9F10"></div>
<span class="t n" style="left:875.3px;width:20px;text-align:center;top:171.8px">3</span>
<span class="t n" style="left:893.7px;top:171.8px">F</span>
<span class="t c" style="left:900.5px;top:172.395px;font-size:5.3px;">Skólaslit og vorgleði v2</span>
<div style="left:879px;top:178px;width:85px;height:14px;background:#FBD4B4"></div>
<span class="t n" style="left:875.3px;width:20px;text-align:center;top:186.8px">4</span>
<span class="t n" style="left:893.7px;top:186.8px">L</span>
<div style="left:879px;top:193px;width:85px;height:15px;background:#FBD4B4"></div>
<span class="t n" style="left:875.3px;width:20px;text-align:center;top:202.8px">5</span>
<span class="t n" style="left:893.7px;top:202.8px">S</span>
<span class="t c" style="left:900.5px;top:204.16px;font-size:4.4px;">Hvítasunnudagur</span>
<div style="left:879px;top:209px;width:85px;height:15px;background:#FBD4B4"></div>
<span class="t n" style="left:875.3px;width:20px;text-align:center;top:218.8px">6</span>
<span class="t n" style="left:893.7px;top:218.8px">M</span>
<span class="t c" style="left:900.5px;top:220.16px;font-size:4.4px;">Annar í hvítasunnu</span>
<div style="left:879px;top:225px;width:85px;height:15px;background:#B2A1C7"></div>
<span class="t n" style="left:875.3px;width:20px;text-align:center;top:234.8px">7</span>
<span class="t n" style="left:893.7px;top:234.8px">Þ</span>
<div style="left:879px;top:241px;width:85px;height:15px;background:#B2A1C7"></div>
<span class="t n" style="left:875.3px;width:20px;text-align:center;top:250.8px">8</span>
<span class="t n" style="left:893.7px;top:250.8px">M</span>
<span class="t c" style="left:900.5px;top:252.16px;font-size:4.4px;">Starfsdagur</span>
<div style="left:879px;top:257px;width:85px;height:15px;background:#B2A1C7"></div>
<span class="t n" style="left:875.3px;width:20px;text-align:center;top:266.8px">9</span>
<span class="t n" style="left:893.7px;top:266.8px">F</span>
<span class="t c" style="left:900.5px;top:268.15999999999997px;font-size:4.4px;">Starfsdagur</span>
<span class="t n" style="left:875.3px;width:20px;text-align:center;top:282.8px">10</span>
<span class="t n" style="left:893.7px;top:282.8px">F</span>
<div style="left:879px;top:289px;width:85px;height:14px;background:#FBD4B4"></div>
<span class="t n" style="left:875.3px;width:20px;text-align:center;top:297.8px">11</span>
<span class="t n" style="left:893.7px;top:297.8px">L</span>
<div style="left:879px;top:304px;width:85px;height:15px;background:#FBD4B4"></div>
<span class="t n" style="left:875.3px;width:20px;text-align:center;top:313.8px">12</span>
<span class="t n" style="left:893.7px;top:313.8px">S</span>
<span class="t c" style="left:900.5px;top:315.15999999999997px;font-size:4.4px;">Sjómannadagurinn</span>
<span class="t n" style="left:875.3px;width:20px;text-align:center;top:329.8px">13</span>
<span class="t n" style="left:893.7px;top:329.8px">M</span>
<span class="t n" style="left:875.3px;width:20px;text-align:center;top:345.8px">14</span>
<span class="t n" style="left:893.7px;top:345.8px">Þ</span>
<span class="t n" style="left:875.3px;width:20px;text-align:center;top:361.8px">15</span>
<span class="t n" style="left:893.7px;top:361.8px">M</span>
<span class="t n" style="left:875.3px;width:20px;text-align:center;top:377.8px">16</span>
<span class="t n" style="left:893.7px;top:377.8px">F</span>
<div style="left:879px;top:384px;width:85px;height:14px;background:#FBD4B4"></div>
<span class="t n" style="left:875.3px;width:20px;text-align:center;top:392.8px">17</span>
<span class="t n" style="left:893.7px;top:392.8px">F</span>
<span class="t c" style="left:900.5px;top:394.15999999999997px;font-size:4.4px;">Lýðveldisdagurinn</span>
<div style="left:879px;top:399px;width:85px;height:15px;background:#FBD4B4"></div>
<span class="t n" style="left:875.3px;width:20px;text-align:center;top:408.8px">18</span>
<span class="t n" style="left:893.7px;top:408.8px">L</span>
<div style="left:879px;top:415px;width:85px;height:15px;background:#FBD4B4"></div>
<span class="t n" style="left:875.3px;width:20px;text-align:center;top:424.8px">19</span>
<span class="t n" style="left:893.7px;top:424.8px">S</span>
<span class="t n" style="left:875.3px;width:20px;text-align:center;top:440.8px">20</span>
<span class="t n" style="left:893.7px;top:440.8px">M</span>
<span class="t n" style="left:875.3px;width:20px;text-align:center;top:456.8px">21</span>
<span class="t n" style="left:893.7px;top:456.8px">Þ</span>
<span class="t n" style="left:875.3px;width:20px;text-align:center;top:472.8px">22</span>
<span class="t n" style="left:893.7px;top:472.8px">M</span>
<span class="t n" style="left:875.3px;width:20px;text-align:center;top:488.8px">23</span>
<span class="t n" style="left:893.7px;top:488.8px">F</span>
<span class="t n" style="left:875.3px;width:20px;text-align:center;top:503.8px">24</span>
<span class="t n" style="left:893.7px;top:503.8px">F</span>
<div style="left:879px;top:510px;width:85px;height:15px;background:#FBD4B4"></div>
<span class="t n" style="left:875.3px;width:20px;text-align:center;top:519.8px">25</span>
<span class="t n" style="left:893.7px;top:519.8px">L</span>
<div style="left:879px;top:526px;width:85px;height:15px;background:#FBD4B4"></div>
<span class="t n" style="left:875.3px;width:20px;text-align:center;top:535.8px">26</span>
<span class="t n" style="left:893.7px;top:535.8px">S</span>
<span class="t n" style="left:875.3px;width:20px;text-align:center;top:551.8px">27</span>
<span class="t n" style="left:893.7px;top:551.8px">M</span>
<span class="t n" style="left:875.3px;width:20px;text-align:center;top:567.8px">28</span>
<span class="t n" style="left:893.7px;top:567.8px">Þ</span>
<span class="t n" style="left:875.3px;width:20px;text-align:center;top:583.8px">29</span>
<span class="t n" style="left:893.7px;top:583.8px">M</span>
<span class="t n" style="left:875.3px;width:20px;text-align:center;top:599.8px">30</span>
<span class="t n" style="left:893.7px;top:599.8px">F</span>
<div style="left:25px;top:129px;width:940px;height:1px;background:#1a1a1a"></div>
<div style="left:25px;top:145px;width:940px;height:1px;background:#1a1a1a"></div>
<div style="left:25px;top:161px;width:940px;height:1px;background:#1a1a1a"></div>
<div style="left:25px;top:177px;width:940px;height:1px;background:#1a1a1a"></div>
<div style="left:25px;top:192px;width:940px;height:1px;background:#1a1a1a"></div>
<div style="left:25px;top:208px;width:940px;height:1px;background:#1a1a1a"></div>
<div style="left:25px;top:224px;width:940px;height:1px;background:#1a1a1a"></div>
<div style="left:25px;top:240px;width:940px;height:1px;background:#1a1a1a"></div>
<div style="left:25px;top:256px;width:940px;height:1px;background:#1a1a1a"></div>
<div style="left:25px;top:272px;width:940px;height:1px;background:#1a1a1a"></div>
<div style="left:25px;top:288px;width:940px;height:1px;background:#1a1a1a"></div>
<div style="left:25px;top:303px;width:940px;height:1px;background:#1a1a1a"></div>
<div style="left:25px;top:319px;width:940px;height:1px;background:#1a1a1a"></div>
<div style="left:25px;top:335px;width:940px;height:1px;background:#1a1a1a"></div>
<div style="left:25px;top:351px;width:940px;height:1px;background:#1a1a1a"></div>
<div style="left:25px;top:367px;width:940px;height:1px;background:#1a1a1a"></div>
<div style="left:25px;top:383px;width:940px;height:1px;background:#1a1a1a"></div>
<div style="left:25px;top:398px;width:940px;height:1px;background:#1a1a1a"></div>
<div style="left:25px;top:414px;width:940px;height:1px;background:#1a1a1a"></div>
<div style="left:25px;top:430px;width:940px;height:1px;background:#1a1a1a"></div>
<div style="left:25px;top:446px;width:940px;height:1px;background:#1a1a1a"></div>
<div style="left:25px;top:462px;width:940px;height:1px;background:#1a1a1a"></div>
<div style="left:25px;top:478px;width:940px;height:1px;background:#1a1a1a"></div>
<div style="left:25px;top:494px;width:940px;height:1px;background:#1a1a1a"></div>
<div style="left:25px;top:509px;width:940px;height:1px;background:#1a1a1a"></div>
<div style="left:25px;top:525px;width:940px;height:1px;background:#1a1a1a"></div>
<div style="left:25px;top:541px;width:940px;height:1px;background:#1a1a1a"></div>
<div style="left:25px;top:557px;width:940px;height:1px;background:#1a1a1a"></div>
<div style="left:25px;top:573px;width:940px;height:1px;background:#1a1a1a"></div>
<div style="left:25px;top:589px;width:940px;height:1px;background:#1a1a1a"></div>
<div style="left:25px;top:605px;width:940px;height:1px;background:#1a1a1a"></div>
<div style="left:25px;top:620px;width:940px;height:1px;background:#1a1a1a"></div>
<div style="left:26px;top:129px;width:1px;height:492px;background:#1a1a1a"></div>
<div style="left:113px;top:129px;width:1px;height:492px;background:#1a1a1a"></div>
<div style="left:199px;top:129px;width:1px;height:492px;background:#1a1a1a"></div>
<div style="left:283px;top:129px;width:1px;height:492px;background:#1a1a1a"></div>
<div style="left:369px;top:129px;width:1px;height:492px;background:#1a1a1a"></div>
<div style="left:453px;top:129px;width:1px;height:492px;background:#1a1a1a"></div>
<div style="left:538px;top:129px;width:1px;height:492px;background:#1a1a1a"></div>
<div style="left:623px;top:129px;width:1px;height:492px;background:#1a1a1a"></div>
<div style="left:707px;top:129px;width:1px;height:492px;background:#1a1a1a"></div>
<div style="left:793px;top:129px;width:1px;height:492px;background:#1a1a1a"></div>
<div style="left:878px;top:129px;width:1px;height:492px;background:#1a1a1a"></div>
<div style="left:964px;top:129px;width:1px;height:492px;background:#1a1a1a"></div>
<div style="left:45px;top:129px;width:1px;height:492px;background:#1a1a1a"></div>
<div style="left:134px;top:129px;width:1px;height:492px;background:#1a1a1a"></div>
<div style="left:218px;top:129px;width:1px;height:492px;background:#1a1a1a"></div>
<div style="left:304px;top:129px;width:1px;height:492px;background:#1a1a1a"></div>
<div style="left:388px;top:129px;width:1px;height:492px;background:#1a1a1a"></div>
<div style="left:474px;top:129px;width:1px;height:492px;background:#1a1a1a"></div>
<div style="left:558px;top:129px;width:1px;height:492px;background:#1a1a1a"></div>
<div style="left:642px;top:129px;width:1px;height:492px;background:#1a1a1a"></div>
<div style="left:728px;top:129px;width:1px;height:492px;background:#1a1a1a"></div>
<div style="left:813px;top:129px;width:1px;height:492px;background:#1a1a1a"></div>
<div style="left:899px;top:129px;width:1px;height:492px;background:#1a1a1a"></div>
<div style="left:878px;top:117px;width:1px;height:12px;background:#1a1a1a"></div>
<div style="left:964px;top:117px;width:1px;height:12px;background:#1a1a1a"></div>
<svg width="992" height="648" style="position:absolute;left:0;top:0"><line x1="113.5" y1="208.5" x2="199.5" y2="288.5" stroke="#1a1a1a" stroke-width="1.1"/><line x1="199.5" y1="288.5" x2="283.5" y2="367.5" stroke="#1a1a1a" stroke-width="1.1"/><line x1="113.5" y1="430.5" x2="199.5" y2="509.5" stroke="#1a1a1a" stroke-width="1.1"/><line x1="538.5" y1="224.5" x2="623.5" y2="303.5" stroke="#1a1a1a" stroke-width="1.1"/><line x1="878.5" y1="256.5" x2="964.5" y2="270.5" stroke="#1a1a1a" stroke-width="1.1"/></svg>
<span class="t bn" style="left:71px;width:40px;text-align:right;top:622.5px">7</span>
<span class="t bn" style="left:157px;width:40px;text-align:right;top:622.5px">21</span>
<span class="t bn" style="left:241px;width:40px;text-align:right;top:622.5px">19</span>
<span class="t bn" style="left:327px;width:40px;text-align:right;top:622.5px">21</span>
<span class="t bn" style="left:411px;width:40px;text-align:right;top:622.5px">13</span>
<span class="t bn" style="left:496px;width:40px;text-align:right;top:622.5px">20</span>
<span class="t bn" style="left:581px;width:40px;text-align:right;top:622.5px">18</span>
<span class="t bn" style="left:665px;width:40px;text-align:right;top:622.5px">22</span>
<span class="t bn" style="left:751px;width:40px;text-align:right;top:622.5px">15</span>
<span class="t bn" style="left:836px;width:40px;text-align:right;top:622.5px">20</span>
<span class="t bn" style="left:922px;width:40px;text-align:right;top:622.5px">4</span>
</body></html>
